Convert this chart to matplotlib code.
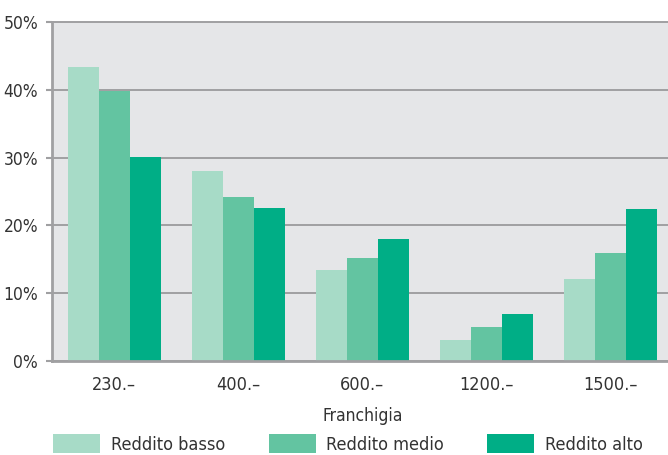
import matplotlib
matplotlib.use("Agg")
import matplotlib.pyplot as plt
from matplotlib import font_manager
import numpy as np

categories = ["230.–", "400.–", "600.–", "1200.–", "1500.–"]
series_names = ["Reddito basso", "Reddito medio", "Reddito alto"]
basso = [43.4, 28.0, 13.4, 3.1, 12.1]
medio = [39.8, 24.2, 15.2, 5.0, 15.9]
alto = [30.1, 22.6, 18.0, 6.9, 22.4]
y_ticks = [0, 10, 20, 30, 40, 50]
x_label = "Franchigia"

colors = ["#a7dbc7", "#63c4a1", "#00ae86"]
text_color = "#333333"
grid_color = "#a0a0a2"

names = sorted({(f.name, f.stretch) for f in font_manager.fontManager.ttflist})
print(names)

plt.rcParams['font.family'] = ['DejaVu Sans']
plt.rcParams['font.stretch'] = 'condensed'

fig = plt.figure(figsize=(6.68, 4.55), dpi=100)
ax = fig.add_axes([52 / 668, 94 / 455, 620.5 / 668, 339 / 455])
ax.set_facecolor("#e5e6e8")

x = np.arange(len(categories))
w = 0.25
handles = []
for i, (vals, name) in enumerate(zip([basso, medio, alto], series_names)):
    b = ax.bar(x + (i - 1) * w, vals, width=w, color=colors[i], label=name, zorder=3, linewidth=0)
    handles.append(b)

ax.set_xlim(-0.5, len(categories) - 0.5)
ax.set_ylim(0, 50)
ax.set_yticks(y_ticks)
ax.set_yticklabels([f"{t}%" for t in y_ticks])
ax.set_xticks(x)
ax.set_xticklabels(categories)

ax.yaxis.grid(True, color=grid_color, linewidth=1.4, zorder=1)
for gl in ax.get_ygridlines():
    gl.set_clip_on(False)
ax.set_axisbelow(True)

for s in ["right", "top"]:
    ax.spines[s].set_visible(False)
ax.spines["left"].set_color(grid_color)
ax.spines["left"].set_linewidth(2)
ax.spines["bottom"].set_color(grid_color)
ax.spines["bottom"].set_linewidth(2)
ax.spines["bottom"].set_zorder(4)

ax.tick_params(axis="y", length=4, width=1.5, color=grid_color, pad=6,
               labelsize=12.5, labelcolor=text_color)
ax.tick_params(axis="x", length=0, pad=11, labelsize=13, labelcolor=text_color)

ax.set_xlabel(x_label, fontsize=12.5, color=text_color, labelpad=9)

leg = fig.legend(handles=handles, labels=series_names, loc="lower left",
                 bbox_to_anchor=(46 / 668, -6 / 455), ncol=3, frameon=False,
                 fontsize=13, handlelength=2.6, handleheight=1.25,
                 handletextpad=0.6, columnspacing=2.4, borderaxespad=0)
for t in leg.get_texts():
    t.set_color(text_color)

fig.savefig("out.png", dpi=100)
